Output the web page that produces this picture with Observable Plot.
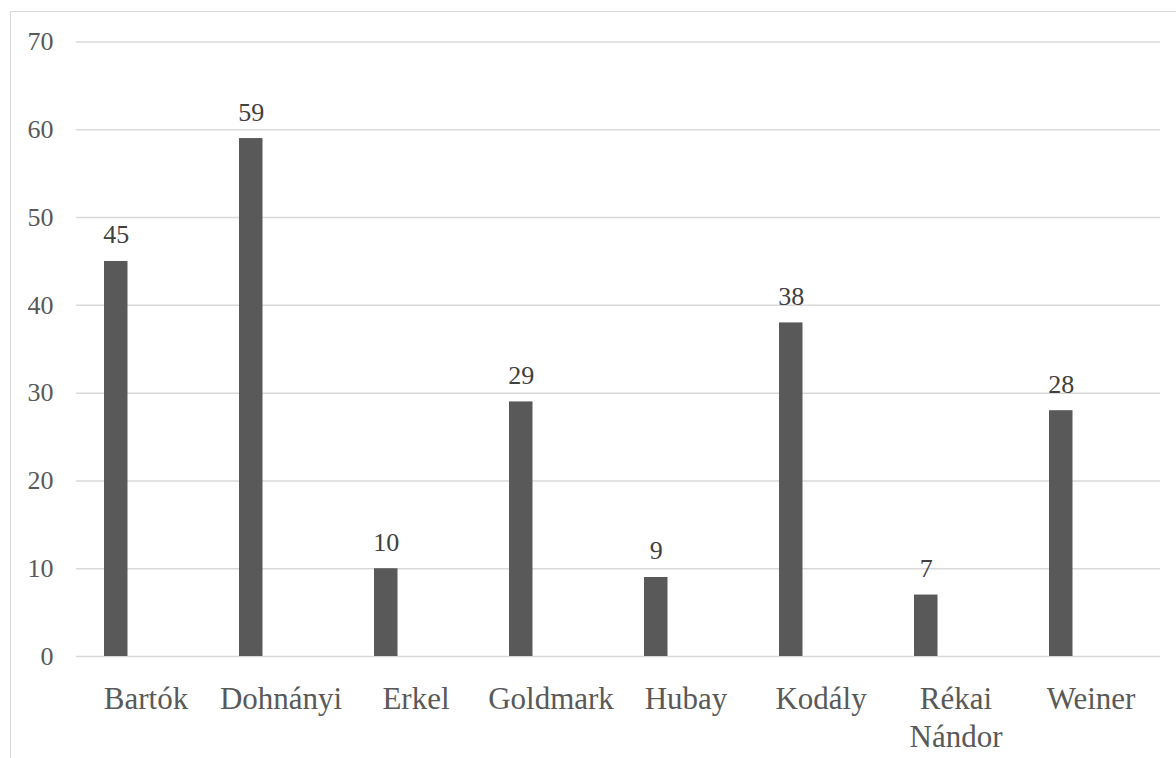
<!DOCTYPE html>
<html>
<head>
<meta charset="utf-8">
<script src="https://cdn.jsdelivr.net/npm/d3@7"></script>
<script src="https://cdn.jsdelivr.net/npm/@observablehq/plot@0.6"></script>
<style>
  html, body { margin: 0; padding: 0; background: #fff; }
  #wrap { position: relative; width: 1176px; height: 758px; overflow: hidden; }
  #frame { position: absolute; left: 10px; top: 11px; right: -2px; bottom: -2px;
           border-left: 1.5px solid #d9d9d9; border-top: 1.5px solid #d9d9d9; }
  #chart { position: absolute; left: 0; top: 0; }
  #chart svg, #chart svg text { font-family: "Liberation Serif", "Tinos", "DejaVu Serif", serif !important; }
</style>
</head>
<body>
<div id="wrap"><div id="frame"></div><div id="chart"></div></div>
<script>
// Composers and their counts
const composers = ["Bartók", "Dohnányi", "Erkel", "Goldmark", "Hubay", "Kodály", "Rékai Nándor", "Weiner"];
const counts = [45, 59, 10, 29, 9, 38, 7, 28];
// Axis label text shown under each bar (line breaks where the label wraps)
const composerLabels = ["Bartók", "Dohnányi", "Erkel", "Goldmark", "Hubay", "Kodály", "Rékai\nNándor", "Weiner"];
const yTicks = [0, 10, 20, 30, 40, 50, 60, 70];

const data = composers.map((name, i) => ({name, count: counts[i]}));
const labelOf = new Map(composers.map((c, i) => [c, composerLabels[i]]));

const barColor = "#595959";
const gridColor = "#d9d9d9";
const textColor = "#595959";
const serif = "'Liberation Serif', Tinos, 'DejaVu Serif', serif";

const chart = Plot.plot({
  width: 1176,
  height: 758,
  marginLeft: 76,
  marginRight: 16,
  marginTop: 41.5,
  marginBottom: 102,
  style: {background: "transparent", overflow: "visible"},
  x: {type: "band", domain: composers, padding: 0},
  y: {domain: [0, 70]},
  marks: [
    Plot.ruleY(yTicks, {stroke: gridColor, strokeWidth: 1.5}),
    Plot.barY(data, {x: "name", y: "count", fill: barColor, insetLeft: 26, insetRight: 85.5}),
    Plot.text(data, {
      x: "name", y: "count", text: d => String(d.count),
      dx: -29.75, dy: -18, lineAnchor: "bottom",
      fontSize: 26, fontFamily: serif, fill: "#404040"
    }),
    Plot.axisY({ticks: yTicks, tickSize: 0, tickPadding: 23, fontSize: 26, fontFamily: serif, fill: textColor, label: null}),
    Plot.axisX({tickSize: 0, tickPadding: 26, fontSize: 31, lineHeight: 1.21, fontFamily: serif, fill: textColor,
                tickFormat: d => labelOf.get(d), label: null})
  ]
});

document.getElementById("chart").append(chart);
</script>
</body>
</html>
